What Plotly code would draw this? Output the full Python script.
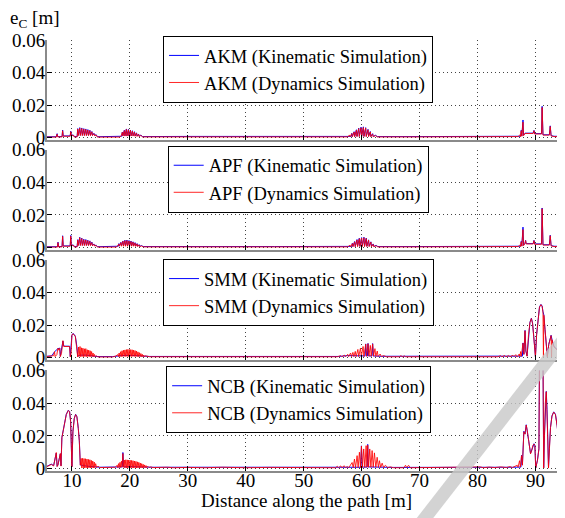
import plotly.graph_objects as go

# ---------------- data: (distance [m], e_C [m]) ----------------
AKM_KIN = [(5.7,0.0005),(7.3,0.0005),(7.45,0.0024),(7.55,0.0006),(8.3,0.0006),(8.4,0.0046),(8.5,0.001),(9.7,0.001),(9.8,0.0039),(9.9,0.0016),(10.3,0.0014),(10.4,0.0006),(10.9,0.0006),
(11.0,0.0055),(11.1,0.0014),(11.35,0.0061),(11.45,0.0014),(11.7,0.0059),(11.8,0.0014),(12.05,0.0055),(12.15,0.0014),(12.4,0.0053),(12.5,0.0014),(12.75,0.0049),(12.85,0.0014),(13.1,0.0045),(13.2,0.0014),(13.45,0.0037),(13.55,0.0014),(13.8,0.0026),(13.9,0.0014),(14.2,0.0017),(14.4,0.0005),
(18.3,0.0005),(18.6,0.0008),(18.7,0.0034),(18.8,0.0011),(19.05,0.0045),(19.15,0.0011),(19.4,0.0053),(19.5,0.0011),(19.75,0.005),(19.85,0.0011),(20.1,0.0046),(20.2,0.0011),(20.45,0.0042),(20.55,0.0011),(20.8,0.0036),(20.9,0.001),(21.15,0.0029),(21.25,0.0009),(21.5,0.0022),(21.6,0.0008),(21.9,0.0015),(22.2,0.0006),
(30,0.0007),(45,0.0006),(57.6,0.0006),(58.2,0.0007),(58.3,0.0026),(58.4,0.0007),(58.7,0.0036),(58.8,0.0007),(59.1,0.0048),(59.2,0.0008),(59.5,0.0058),(59.6,0.0008),(59.9,0.0064),(60.0,0.0008),(60.3,0.0066),(60.4,0.0008),(60.7,0.0061),(60.8,0.0008),(61.1,0.005),(61.2,0.0008),(61.5,0.0037),(61.6,0.0007),(61.9,0.0024),(62.0,0.0007),(62.4,0.0014),(62.7,0.0006),
(70,0.0006),(85,0.0007),(87.45,0.0008),(87.55,0.0045),(87.65,0.001),(87.85,0.0108),(87.95,0.0014),(88.2,0.0027),(89.6,0.0027),(89.75,0.0044),(89.85,0.0024),(91.05,0.0024),(91.15,0.0192),(91.3,0.0017),(92.4,0.0017),(92.55,0.0072),(92.7,0.0012),(93.2,0.0008),(95.1,0.0007)]

AKM_DYN = [(5.7,0.0003),(7.3,0.0003),(7.45,0.0021),(7.55,0.0004),(8.3,0.0004),(8.4,0.0042),(8.5,0.0008),(9.7,0.0008),(9.8,0.0036),(9.9,0.0014),(10.3,0.0012),(10.4,0.0004),(10.9,0.0004),
(11.0,0.0052),(11.1,0.0012),(11.35,0.0058),(11.45,0.0012),(11.7,0.0056),(11.8,0.0012),(12.05,0.0052),(12.15,0.0012),(12.4,0.005),(12.5,0.0012),(12.75,0.0046),(12.85,0.0012),(13.1,0.0042),(13.2,0.0012),(13.45,0.0035),(13.55,0.0012),(13.8,0.0024),(13.9,0.0012),(14.2,0.0015),(14.4,0.0003),
(18.3,0.0003),(18.5,0.0011),(18.7,0.0032),(18.8,0.0009),(19.05,0.0043),(19.15,0.0009),(19.4,0.005),(19.5,0.0009),(19.75,0.0048),(19.85,0.0009),(20.1,0.0044),(20.2,0.0009),(20.45,0.004),(20.55,0.0009),(20.8,0.0034),(20.9,0.0008),(21.15,0.0027),(21.25,0.0007),(21.5,0.002),(21.6,0.0006),(21.9,0.0013),(22.2,0.0004),
(30,0.0004),(45,0.0004),(57.6,0.0004),(57.9,0.0016),(58.0,0.0005),(58.3,0.0024),(58.4,0.0005),(58.7,0.0034),(58.8,0.0005),(59.1,0.0045),(59.2,0.0006),(59.5,0.0055),(59.6,0.0006),(59.9,0.006),(60.0,0.0006),(60.3,0.0062),(60.4,0.0006),(60.7,0.0058),(60.8,0.0006),(61.1,0.0048),(61.2,0.0006),(61.5,0.0035),(61.6,0.0005),(61.9,0.0022),(62.0,0.0005),(62.4,0.0012),(62.7,0.0004),
(70,0.0004),(85,0.0005),(86.5,0.0008),(87.0,0.0006),(87.3,0.0016),(87.4,0.0006),(87.55,0.0042),(87.65,0.0008),(87.85,0.0095),(87.95,0.0012),(88.2,0.0025),(89.6,0.0025),(89.75,0.0042),(89.85,0.0022),(91.05,0.0022),(91.15,0.0185),(91.3,0.0015),(92.4,0.0015),(92.55,0.0068),(92.7,0.001),(93.2,0.0006),(95.1,0.0005)]

APF_KIN = [(5.7,0.0005),(7.5,0.0005),(7.6,0.0033),(7.7,0.0006),(8.3,0.0006),(8.4,0.0072),(8.5,0.001),(9.7,0.001),(9.8,0.0074),(9.9,0.0016),(10.3,0.0014),(10.4,0.0006),(10.9,0.0006),
(11.0,0.0048),(11.1,0.0014),(11.35,0.0063),(11.45,0.0014),(11.7,0.0058),(11.8,0.0014),(12.05,0.0051),(12.15,0.0014),(12.4,0.0049),(12.5,0.0014),(12.75,0.0045),(12.85,0.0014),(13.1,0.0041),(13.2,0.0014),(13.45,0.0033),(13.55,0.0012),(13.8,0.0022),(13.9,0.0012),(14.2,0.0014),(14.4,0.0005),
(17.7,0.0005),(18.0,0.0008),(18.1,0.0024),(18.2,0.001),(18.45,0.0032),(18.55,0.001),(18.8,0.004),(18.9,0.001),(19.15,0.0045),(19.25,0.001),(19.5,0.0046),(19.6,0.001),(19.85,0.0043),(19.95,0.001),(20.2,0.004),(20.3,0.001),(20.55,0.0035),(20.65,0.001),(20.9,0.003),(21.0,0.0009),(21.25,0.0024),(21.35,0.0008),(21.6,0.0018),(21.7,0.0007),(22.0,0.0012),(22.3,0.0006),
(45,0.0006),(57.6,0.0006),(58.3,0.0007),(58.4,0.0026),(58.5,0.0007),(58.8,0.0037),(58.9,0.0007),(59.2,0.0049),(59.3,0.0008),(59.6,0.0057),(59.7,0.0008),(60.0,0.0061),(60.1,0.0008),(60.4,0.0063),(60.5,0.0008),(60.8,0.0058),(60.9,0.0008),(61.2,0.0047),(61.3,0.0008),(61.6,0.0035),(61.7,0.0007),(62.0,0.0022),(62.1,0.0007),(62.5,0.0013),(62.8,0.0006),
(70,0.0006),(85,0.0007),(87.45,0.0008),(87.55,0.0038),(87.65,0.001),(87.85,0.0125),(87.95,0.0014),(88.2,0.0027),(88.3,0.0044),(88.4,0.0024),(89.6,0.0024),(89.75,0.0044),(89.85,0.0022),(91.05,0.0022),(91.15,0.0242),(91.3,0.0017),(92.4,0.0017),(92.55,0.0075),(92.7,0.0012),(93.2,0.0008),(95.1,0.0007)]

APF_DYN = [(5.7,0.0003),(7.5,0.0003),(7.6,0.003),(7.7,0.0004),(8.3,0.0004),(8.4,0.0068),(8.5,0.0008),(9.7,0.0008),(9.8,0.007),(9.9,0.0014),(10.3,0.0012),(10.4,0.0004),(10.9,0.0004),
(11.0,0.0045),(11.1,0.0012),(11.35,0.006),(11.45,0.0012),(11.7,0.0055),(11.8,0.0012),(12.05,0.0048),(12.15,0.0012),(12.4,0.0046),(12.5,0.0012),(12.75,0.0042),(12.85,0.0012),(13.1,0.0038),(13.2,0.0012),(13.45,0.003),(13.55,0.001),(13.8,0.002),(13.9,0.001),(14.2,0.0012),(14.4,0.0003),
(17.7,0.0003),(18.1,0.0022),(18.2,0.0008),(18.45,0.003),(18.55,0.0008),(18.8,0.0038),(18.9,0.0008),(19.15,0.0042),(19.25,0.0008),(19.5,0.0043),(19.6,0.0008),(19.85,0.004),(19.95,0.0008),(20.2,0.0037),(20.3,0.0008),(20.55,0.0033),(20.65,0.0008),(20.9,0.0028),(21.0,0.0007),(21.25,0.0022),(21.35,0.0006),(21.6,0.0016),(21.7,0.0005),(22.0,0.001),(22.3,0.0004),
(45,0.0004),(57.6,0.0004),(58.0,0.0015),(58.1,0.0005),(58.4,0.0024),(58.5,0.0005),(58.8,0.0035),(58.9,0.0005),(59.2,0.0046),(59.3,0.0006),(59.6,0.0054),(59.7,0.0006),(60.0,0.0058),(60.1,0.0006),(60.4,0.006),(60.5,0.0006),(60.8,0.0055),(60.9,0.0006),(61.2,0.0045),(61.3,0.0006),(61.6,0.0033),(61.7,0.0005),(62.0,0.002),(62.1,0.0005),(62.5,0.0011),(62.8,0.0004),
(70,0.0004),(85,0.0005),(86.5,0.0008),(87.0,0.0006),(87.3,0.0015),(87.4,0.0006),(87.55,0.0035),(87.65,0.0008),(87.85,0.011),(87.95,0.0012),(88.2,0.0025),(88.3,0.0042),(88.4,0.0022),(89.6,0.0022),(89.75,0.0042),(89.85,0.002),(91.05,0.002),(91.15,0.0238),(91.3,0.0015),(92.4,0.0015),(92.55,0.0072),(92.7,0.001),(93.2,0.0006),(95.1,0.0005)]

SMM_KIN = [(5.6,0.0008),(6.5,0.001),(7.0,0.0035),(7.58,0.0055),(7.9,0.0058),(8.0,0.0008),(8.45,0.0102),(8.6,0.007),(9.6,0.007),(9.72,0.0006),(10.0,0.0138),(10.17,0.0148),(10.4,0.0142),(10.6,0.013),(10.85,0.0069),(11.0,0.0008),(11.4,0.0015),(12.5,0.0015),(14.5,0.0006),
(17.0,0.0006),(18.5,0.0012),(20,0.0014),(22,0.001),(23.4,0.0007),(30,0.0007),(40,0.0007),(50,0.0007),(56,0.0007),(57.6,0.0012),(59.8,0.0012),(60.6,0.001),(60.7,0.0084),(60.85,0.001),(61.0,0.001),(61.1,0.0087),(61.25,0.001),(61.8,0.001),(61.9,0.0086),(62.05,0.001),(63.4,0.0008),(75,0.0007),
(86.9,0.0008),(87.75,0.0009),(87.85,0.009),(88.0,0.002),(88.2,0.0167),(88.35,0.004),(88.55,0.001),(88.8,0.0142),(89.05,0.0217),(89.3,0.0242),(89.5,0.0212),(89.7,0.0132),(89.9,0.0042),(90.0,0.0006),(90.2,0.0142),(90.45,0.0252),(90.7,0.0312),(90.95,0.0327),(91.15,0.0317),(91.3,0.0282),(91.45,0.0262),(91.65,0.0172),(91.85,0.0082),(92.05,0.0007),(92.3,0.0082),(92.55,0.013),(92.7,0.0137),(92.85,0.0112),(93.0,0.0087),(93.2,0.0068),(93.8,0.0047),(94.4,0.0028),(95.1,0.0024)]

SMM_DYN = [(5.6,0.0006),(6.5,0.0008),(6.85,0.0012),(7.0,0.0037),(7.1,0.0006),(7.4,0.0018),(7.58,0.0057),(7.75,0.0045),(7.9,0.0058),(8.0,0.0006),(8.2,0.0025),(8.45,0.0104),(8.6,0.0068),(9.6,0.0068),(9.72,0.0004),(9.85,0.002),(10.0,0.0138),(10.17,0.0146),(10.4,0.014),(10.6,0.0128),(10.85,0.0067),(11.0,0.0004),
(11.15,0.0065),(11.25,0.0007),(11.4,0.0068),(11.5,0.0006),(11.65,0.006),(11.75,0.0006),(11.9,0.0058),(12.0,0.0006),(12.15,0.0054),(12.25,0.0006),(12.4,0.0055),(12.5,0.0006),(12.65,0.0048),(12.75,0.0006),(12.9,0.0046),(13.0,0.0006),(13.15,0.0042),(13.25,0.0006),(13.4,0.0037),(13.5,0.0006),(13.65,0.0028),(13.75,0.0006),(13.9,0.0019),(14.0,0.0005),(14.2,0.0011),(14.5,0.0004),
(17.0,0.0004),(17.5,0.0008),(17.9,0.0018),(18.02,0.0006),(18.15,0.0028),(18.27,0.0006),(18.4,0.0036),(18.52,0.0006),(18.65,0.0042),(18.77,0.0007),(18.9,0.0045),(19.02,0.0007),(19.15,0.0047),(19.27,0.0007),(19.4,0.0049),(19.52,0.0007),(19.65,0.005),(19.77,0.0007),(19.9,0.005),(20.02,0.0007),(20.15,0.0049),(20.27,0.0007),(20.4,0.0048),(20.52,0.0007),(20.65,0.0046),(20.77,0.0007),(20.9,0.0043),(21.02,0.0007),(21.15,0.004),(21.27,0.0006),(21.4,0.0035),(21.52,0.0006),(21.65,0.003),(21.77,0.0006),(21.9,0.0025),(22.02,0.0006),(22.15,0.002),(22.27,0.0005),(22.4,0.0015),(22.52,0.0005),(22.65,0.0011),(22.9,0.0008),(23.4,0.0005),
(30,0.0005),(40,0.0005),(50,0.0005),(55.8,0.0005),(56.4,0.0012),(56.6,0.0005),(57.0,0.0015),(57.2,0.0005),(57.6,0.002),(57.75,0.0006),(58.1,0.0028),(58.25,0.0006),(58.5,0.0032),(58.65,0.0006),(58.9,0.0038),(59.05,0.0006),(59.35,0.005),(59.5,0.0006),(59.8,0.0058),(59.95,0.0006),(60.25,0.0068),(60.4,0.0006),(60.7,0.0082),(60.85,0.0008),(61.1,0.0085),(61.25,0.0008),(61.5,0.0075),(61.65,0.0008),(61.9,0.0084),(62.05,0.0008),(62.3,0.0055),(62.45,0.0007),(62.7,0.004),(62.85,0.0006),(63.2,0.0022),(63.4,0.0006),(63.8,0.0012),(64.3,0.0005),
(66.5,0.0005),(66.8,0.0012),(67.0,0.0005),(67.4,0.001),(67.6,0.0005),(75,0.0005),(83.5,0.0005),(84.0,0.0012),(84.2,0.0005),(84.7,0.0013),(84.9,0.0005),(85.4,0.0012),(85.6,0.0005),(86.1,0.0014),(86.3,0.0006),(86.6,0.0018),(86.75,0.0006),
(86.9,0.0006),(87.2,0.0022),(87.3,0.0007),(87.45,0.0037),(87.55,0.0008),(87.7,0.0045),(87.85,0.0088),(88.0,0.002),(88.2,0.0165),(88.35,0.004),(88.55,0.0008),(88.8,0.014),(89.05,0.0215),(89.3,0.024),(89.5,0.021),(89.7,0.013),(89.9,0.004),(90.0,0.0004),(90.2,0.014),(90.45,0.025),(90.7,0.031),(90.95,0.0325),(91.15,0.0315),(91.3,0.028),(91.38,0.0004),(91.45,0.026),(91.65,0.017),(91.85,0.008),(92.05,0.0005),(92.3,0.008),(92.55,0.0128),(92.7,0.0135),(92.78,0.0004),(92.85,0.011),(93.0,0.0085),(93.2,0.0066),(93.8,0.0045),(94.4,0.0026),(95.1,0.0022)]

NCB_KIN = [(5.6,0.0012),(6.44,0.0027),(6.84,0.0018),(7.3,0.0095),(7.45,0.0014),(7.58,0.0022),(8.0,0.009),(8.12,0.0017),(8.27,0.019),(8.45,0.0226),(8.74,0.0288),(9.03,0.0332),(9.38,0.0357),(9.6,0.0349),(9.78,0.0288),(9.9,0.0012),(10.0,0.0012),(10.17,0.0226),(10.41,0.0308),(10.64,0.0332),(10.86,0.0318),(11.1,0.0247),(11.28,0.017),(11.45,0.0022),(12.5,0.0015),(14.8,0.0008),
(17.0,0.0008),(18.55,0.0012),(18.7,0.001),(18.8,0.0098),(18.92,0.001),(20,0.0012),(24.0,0.0008),(40,0.0008),(55.5,0.0007),(58,0.0008),(59.85,0.0008),(59.97,0.0139),(60.1,0.0009),(60.95,0.0009),(61.05,0.0148),(61.15,0.001),(65.5,0.0007),(86,0.0008),
(87.5,0.0009),(87.6,0.0081),(87.75,0.0022),(88.0,0.0228),(88.2,0.0212),(88.41,0.0268),(88.6,0.0232),(88.86,0.0164),(89.15,0.0092),(89.35,0.0112),(89.55,0.0143),(89.75,0.0152),(89.9,0.0142),(90.05,0.0005),(90.35,0.0052),(90.6,0.0122),(90.7,0.07),(91.0,0.09),(91.3,0.07),(91.42,0.0005),(91.55,0.0202),(91.7,0.0402),(91.87,0.0472),(92.0,0.0362),(92.15,0.0152),(92.25,0.0005),(92.4,0.0122),(92.6,0.0252),(92.85,0.0322),(93.15,0.0347),(93.45,0.0332),(93.75,0.0262),(94.05,0.0152),(94.3,0.0062),(94.45,0.0005),(94.7,0.0052),(94.9,0.0072),(95.1,0.0077)]

NCB_DYN = [(5.6,0.001),(6.44,0.0025),(6.84,0.0016),(7.3,0.0098),(7.45,0.0012),(7.58,0.002),(8.0,0.0092),(8.12,0.0015),(8.27,0.0188),(8.45,0.0224),(8.74,0.0286),(9.03,0.033),(9.38,0.0355),(9.6,0.0347),(9.78,0.0286),(9.9,0.001),(10.0,0.001),(10.17,0.0224),(10.41,0.0306),(10.64,0.033),(10.86,0.0316),(11.1,0.0245),(11.28,0.0165),(11.45,0.002),
(11.6,0.0062),(11.7,0.0004),(11.85,0.0063),(11.95,0.0004),(12.1,0.0061),(12.2,0.0004),(12.35,0.006),(12.45,0.0004),(12.6,0.0058),(12.7,0.0004),(12.85,0.0056),(12.95,0.0004),(13.1,0.0054),(13.2,0.0004),(13.35,0.005),(13.45,0.0004),(13.6,0.0046),(13.7,0.0004),(13.85,0.004),(13.95,0.0005),(14.1,0.003),(14.25,0.0006),(14.5,0.0015),(14.8,0.0006),
(17.0,0.0006),(17.5,0.0008),(17.8,0.002),(17.9,0.0006),(18.05,0.003),(18.15,0.0006),(18.3,0.0038),(18.4,0.0007),(18.55,0.0045),(18.65,0.0008),(18.8,0.0092),(18.92,0.0008),(19.05,0.0052),(19.15,0.0004),(19.3,0.0054),(19.4,0.0004),(19.55,0.0053),(19.65,0.0004),(19.8,0.0052),(19.9,0.0004),(20.05,0.0051),(20.15,0.0004),(20.3,0.005),(20.4,0.0004),(20.55,0.0048),(20.65,0.0004),(20.8,0.0046),(20.9,0.0004),(21.05,0.0044),(21.15,0.0004),(21.3,0.0041),(21.4,0.0004),(21.55,0.0038),(21.65,0.0004),(21.8,0.0034),(21.9,0.0004),(22.05,0.003),(22.15,0.0004),(22.3,0.0026),(22.4,0.0005),(22.55,0.0022),(22.65,0.0005),(22.8,0.0018),(22.9,0.0005),(23.1,0.0014),(23.3,0.0006),(23.6,0.001),(24.0,0.0006),
(26.5,0.0008),(27.5,0.0005),(30,0.0007),(33,0.0005),(36,0.0008),(40,0.0005),(44,0.0007),(48,0.0005),(52,0.0007),(55.5,0.0005),(55.8,0.0014),(56.0,0.0005),(56.4,0.0016),(56.6,0.0005),(57.0,0.0017),(57.2,0.0005),(57.5,0.0012),(57.8,0.0006),
(58.36,0.0037),(58.55,0.0006),(58.76,0.0058),(58.95,0.0006),(59.22,0.0079),(59.4,0.0006),(59.62,0.01),(59.8,0.0006),(59.97,0.0137),(60.15,0.0007),(60.36,0.012),(60.55,0.0007),(60.78,0.014),(60.92,0.0008),(61.05,0.0143),(61.2,0.0008),(61.4,0.012),(61.6,0.0008),(61.81,0.011),(62.0,0.0008),(62.21,0.0096),(62.45,0.0008),(62.68,0.0069),(62.9,0.0007),(63.07,0.0048),(63.3,0.0007),(63.54,0.0033),(63.8,0.0006),(64.1,0.002),(64.5,0.0006),(64.97,0.001),(65.5,0.0005),
(67.3,0.0005),(67.57,0.002),(67.8,0.0006),(68.1,0.002),(68.4,0.0005),(72,0.0006),(76,0.0005),(79.95,0.0006),(80.5,0.001),(81,0.0005),(82,0.0009),(83,0.0006),(84,0.001),(85,0.0006),(85.6,0.0012),(86.0,0.0006),(86.5,0.0015),(86.86,0.002),(87.0,0.0008),(87.25,0.0048),(87.4,0.001),(87.6,0.0079),(87.75,0.002),
(88.0,0.0225),(88.2,0.021),(88.41,0.0266),(88.6,0.023),(88.86,0.0162),(89.15,0.009),(89.35,0.011),(89.55,0.0141),(89.75,0.015),(89.9,0.014),(90.05,0.0003),(90.35,0.005),(90.6,0.012),(90.7,0.07),(91.0,0.09),(91.3,0.07),(91.42,0.0003),(91.55,0.02),(91.7,0.04),(91.87,0.047),(92.0,0.036),(92.15,0.015),(92.25,0.0003),(92.4,0.012),(92.6,0.025),(92.85,0.032),(93.15,0.0345),(93.45,0.033),(93.75,0.026),(94.05,0.015),(94.3,0.006),(94.45,0.0003),(94.7,0.005),(94.9,0.007),(95.1,0.0075)]

METHODS = ["AKM", "APF", "SMM", "NCB"]
SERIES = [(AKM_KIN, AKM_DYN), (APF_KIN, APF_DYN), (SMM_KIN, SMM_DYN), (NCB_KIN, NCB_DYN)]
X_TICKS = [10, 20, 30, 40, 50, 60, 70, 80, 90]
Y_TICKS = [0, 0.02, 0.04, 0.06]
X_TITLE = "Distance along the path [m]"
Y_TITLE = "e<sub>C</sub> [m]"

# ---------------- layout geometry ----------------
# the page body keeps its default 8px margin, so the figure is 8px smaller
FONT = "Liberation Serif"
DOMAINS = [(0.768, 1.0), (0.5128, 0.7459), (0.2575, 0.4896), (0.0, 0.2332)]
LEG_POS = [(0.224, 0.9318), (0.233, 0.677), (0.224, 0.414), (0.230, 0.1654)]

fig = go.Figure()
for i, (name, (kin, dyn)) in enumerate(zip(METHODS, SERIES)):
    k = "" if i == 0 else str(i + 1)
    leg = "legend" if i == 0 else "legend" + str(i + 1)
    kx, ky = zip(*kin)
    dx, dy = zip(*dyn)
    fig.add_trace(go.Scatter(x=kx, y=ky, mode="lines", name=f"{name} (Kinematic Simulation)",
                             line=dict(color="#0000ff", width=1), xaxis="x" + k, yaxis="y" + k,
                             legend=leg))
    fig.add_trace(go.Scatter(x=dx, y=dy, mode="lines", name=f"{name} (Dynamics Simulation)",
                             line=dict(color="rgba(255,0,0,0.85)", width=1), xaxis="x" + k, yaxis="y" + k,
                             legend=leg))

layout = dict(
    width=557, height=510,
    margin=dict(l=39, r=0, t=32, b=47),
    paper_bgcolor="white", plot_bgcolor="white",
    font=dict(family=FONT, size=19, color="black"),
    showlegend=True,
)
for i in range(4):
    k = "" if i == 0 else str(i + 1)
    layout["xaxis" + k] = dict(
        domain=[0, 1], anchor="y" + k, range=[5.7, 95.1],
        tickvals=X_TICKS, showticklabels=(i == 3),
        ticks="inside", ticklen=5, tickcolor="black", tickwidth=1,
        showgrid=True, gridcolor="#444", griddash="1px,3px", gridwidth=1,
        zeroline=False, showline=True, linecolor="#8a8a8a", linewidth=2,
        tickfont=dict(family=FONT, size=19), ticklabelstandoff=-9,
    )
    layout["yaxis" + k] = dict(
        domain=list(DOMAINS[i]), anchor="x" + k, range=[-0.0015, 0.06],
        tickvals=Y_TICKS, ticktext=["0", "0.02", "0.04", "0.06"],
        ticks="inside", ticklen=5, tickcolor="black", tickwidth=1,
        showgrid=True, gridcolor="#444", griddash="1px,3px", gridwidth=1,
        zeroline=False, showline=True, linecolor="#8a8a8a", linewidth=2,
        tickfont=dict(family=FONT, size=19), ticklabelstandoff=-4,
    )
    leg = "legend" if i == 0 else "legend" + str(i + 1)
    layout[leg] = dict(
        x=LEG_POS[i][0], y=LEG_POS[i][1], xanchor="left", yanchor="middle",
        bgcolor="white", bordercolor="black", borderwidth=1,
        font=dict(family=FONT, size=18.5, color="black"),
        itemwidth=30, tracegroupgap=0,
    )
fig.update_layout(**layout)

fig.add_annotation(text=X_TITLE, xref="paper", yref="paper", x=0.5, y=-0.068,
                   xanchor="center", yanchor="middle", showarrow=False,
                   font=dict(family=FONT, size=19))
fig.add_annotation(text=Y_TITLE, xref="paper", yref="paper", x=-0.075, y=1.0487,
                   xanchor="left", yanchor="middle", showarrow=False,
                   font=dict(family=FONT, size=19))

# light grey diagonal watermark stripe
fig.add_shape(type="line", xref="paper", yref="paper", x0=0.7104, y0=-0.139, x1=1.02, y1=0.34,
              line=dict(color="rgba(200,200,200,0.8)", width=13), layer="above")

fig.write_html("out.html")
